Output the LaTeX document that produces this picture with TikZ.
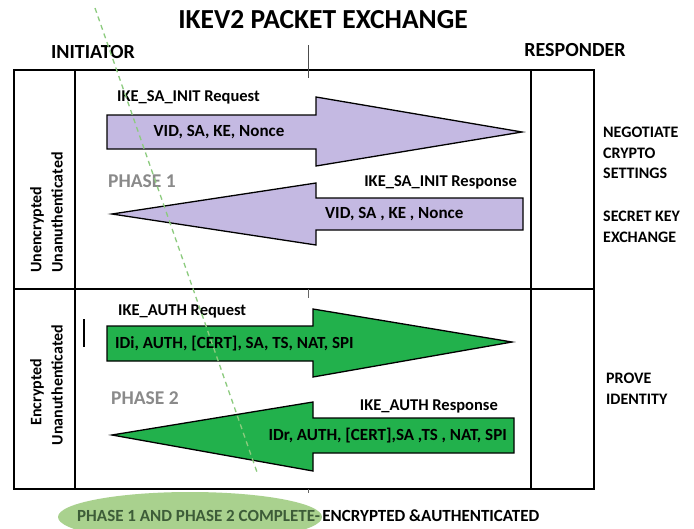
\documentclass[tikz,border=0pt]{standalone}
\usepackage{fontspec}
\setmainfont{Carlito}
\definecolor{lav}{HTML}{C4B9E2}
\definecolor{grn}{HTML}{22B14C}
\definecolor{lgrn}{HTML}{A9D18E}
\definecolor{dashgrn}{HTML}{8CCB7E}
\definecolor{phgray}{HTML}{8A8A8A}
\definecolor{elltxt}{HTML}{3D5C38}
\begin{document}
\begin{tikzpicture}[x=1pt,y=-1pt,
  lbl/.style={font=\bfseries\fontsize{16.5}{19}\selectfont, inner sep=0pt},
  pay/.style={font=\bfseries\fontsize{17}{19}\selectfont, inner sep=0pt},
  side/.style={font=\bfseries\fontsize{16}{19}\selectfont, inner sep=0pt, rotate=90},
  rlbl/.style={font=\bfseries\fontsize{16}{19}\selectfont, inner sep=0pt, anchor=base west},
  hdr/.style={font=\bfseries\fontsize{20}{22}\selectfont, inner sep=0pt},
  arr/.style={draw=black, line width=1.3pt, line join=miter},
  frame/.style={draw=black, line width=1.8pt},
  phase/.style={font=\bfseries\fontsize{19.5}{22}\selectfont, text=phgray, inner sep=0pt, anchor=west}]
\clip (0,0) rectangle (694,528);
\useasboundingbox (0,0) rectangle (694,528);
\fill[white] (0,0) rectangle (694,528);
% title
\node[font=\bfseries\fontsize{27.5}{30}\selectfont, inner sep=0pt] (title) at (323,20) {IKEV2 PACKET EXCHANGE};
\node[hdr] (init) at (93,52) {INITIATOR};
\node[hdr] (resp) at (575,50) {RESPONDER};
% frame
\draw[frame] (14,70) rectangle (594,489);
\draw[frame] (75,70) -- (75,489);
\draw[frame] (531,70) -- (531,489);
\draw[frame] (14,289) -- (594,289);
\draw[line width=0.8pt, black!70] (308,45) -- (308,78);
\draw[line width=0.8pt, black!60] (308,289) -- (308,298);
\draw[line width=0.8pt, black!60] (308,489) -- (308,493);
% side labels
\node[side, anchor=west] (unenc) at (37,273) {Unencrypted};
\node[side, anchor=west] (unauth1) at (57,273) {Unanuthenticated};
\node[side] (enc) at (37,392) {Encrypted};
\node[side] (unauth2) at (57,385) {Unanuthenticated};
% phase 1 arrows
\draw[arr, fill=lav] (107,115) -- (316,115) -- (316,97) -- (522,132) -- (316,166) -- (316,149) -- (107,149) -- cycle;
\draw[arr, fill=lav] (523,198) -- (316,198) -- (316,183) -- (112,214) -- (316,245) -- (316,230) -- (523,230) -- cycle;
\node[lbl, anchor=west] (req1) at (117,97) {IKE\_SA\_INIT Request};
\node[pay] (pay1) at (219,132) {VID, SA, KE, Nonce};
\node[phase] (ph1) at (108,181) {PHASE 1};
\node[lbl, anchor=east] (res1) at (517,182) {IKE\_SA\_INIT Response};
\node[pay, anchor=west] (pay1r) at (325,214) {VID, SA , KE , Nonce};
% phase 2 arrows
\draw[arr, fill=grn] (107,326) -- (313,326) -- (313,309) -- (512,342) -- (313,377) -- (313,361) -- (107,361) -- cycle;
\draw[arr, fill=grn] (514,418) -- (313,418) -- (313,402) -- (112,435) -- (313,471) -- (313,453) -- (514,453) -- cycle;
\draw[line width=1.6pt] (84,319) -- (84,347);
\node[lbl, anchor=west] (req2) at (118,311) {IKE\_AUTH Request};
\node[pay, anchor=west] (pay2) at (115,344) {IDi, AUTH, [CERT], SA, TS, NAT, SPI};
\node[phase] (ph2) at (111,398) {PHASE 2};
\node[lbl, anchor=east] (res2) at (498,406) {IKE\_AUTH Response};
\node[pay, anchor=east] (pay2r) at (507,436) {IDr, AUTH, [CERT],SA ,TS , NAT, SPI};
% right labels
\node[rlbl] (neg1) at (603,137.5) {NEGOTIATE};
\node[rlbl] (neg2) at (603,158) {CRYPTO};
\node[rlbl] (neg3) at (603,178.5) {SETTINGS};
\node[rlbl] (sec1) at (603,221.5) {SECRET KEY};
\node[rlbl] (sec2) at (603,242) {EXCHANGE};
\node[rlbl] (prv1) at (606,383.5) {PROVE};
\node[rlbl] (prv2) at (606,404) {IDENTITY};
% bottom ellipse
\fill[lgrn] (190,517) ellipse (132 and 25);
\node[lbl, anchor=west, text=elltxt, font=\bfseries\fontsize{17}{19}\selectfont] (done) at (77,516) {PHASE 1 AND PHASE 2 COMPLETE-};
\node[lbl, anchor=west, font=\bfseries\fontsize{17}{19}\selectfont] (ea) at ([xshift=2pt]done.east) {ENCRYPTED \&AUTHENTICATED};
% dashed line
\draw[dashgrn, line width=1.3pt, dash pattern=on 5pt off 4pt] (95,8) -- (258,475);
\end{tikzpicture}
\end{document}
